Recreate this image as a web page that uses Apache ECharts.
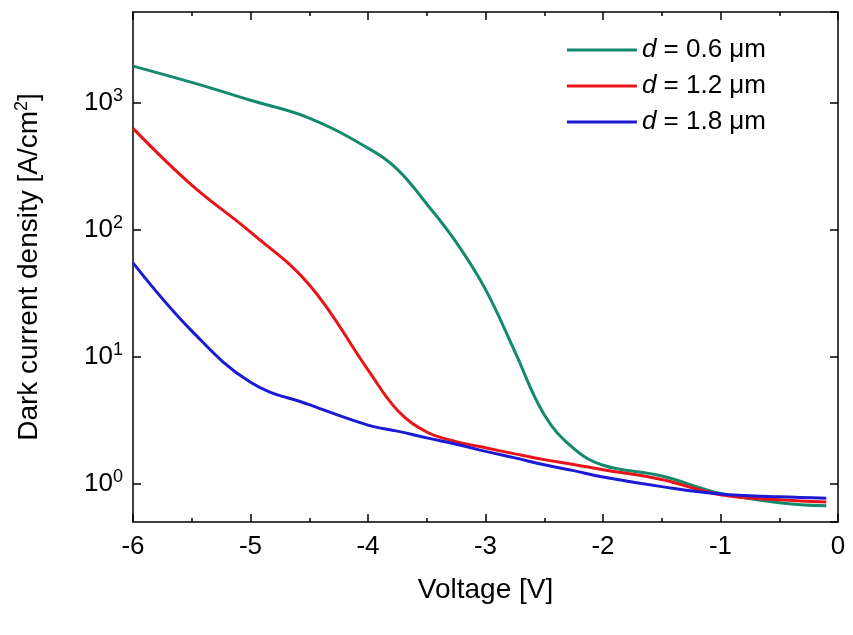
<!DOCTYPE html>
<html><head><meta charset="utf-8">
<script src="https://cdn.jsdelivr.net/npm/echarts@6/dist/echarts.min.js"></script>
<style>html,body{margin:0;padding:0;background:#fff}#c{width:853px;height:635px}</style>
</head><body><div id="c"></div>
<script>
const voltage = [-6, -5.5, -5, -4.5, -4, -3.75, -3.5, -3.25, -3, -2.75, -2.5, -2.25, -2, -1.5, -1, -0.5, -0.1];
const green = [1950, 1450, 1050, 760, 440, 300, 160, 80, 34, 11, 3.5, 1.9, 1.4, 1.15, 0.84, 0.71, 0.67];
const red = [630, 225, 96, 37, 7.9, 3.8, 2.56, 2.15, 1.92, 1.72, 1.55, 1.42, 1.29, 1.08, 0.82, 0.75, 0.72];
const blue = [55, 16, 6.3, 4.2, 2.9, 2.6, 2.3, 2.05, 1.8, 1.6, 1.41, 1.27, 1.13, 0.95, 0.83, 0.79, 0.77];
const names = ['0.6', '1.2', '1.8'];
const font = 'Liberation Sans, Arial, sans-serif';
const pts = a => voltage.map((v, i) => [v, a[i]]);
const chart = echarts.init(document.getElementById('c'));
const axisCommon = {axisLine:{onZero:false,lineStyle:{color:'#000',width:1.5}}, axisTick:{inside:true,length:8,lineStyle:{color:'#000',width:1.5}}, minorTick:{show:true,splitNumber:2,length:4,lineStyle:{color:'#000',width:1.5}}, splitLine:{show:false}};
chart.setOption({
  animation:false,
  grid:{left:133,right:15,top:12,bottom:113},
  legend:{right:82,top:32,orient:'vertical',itemWidth:70,itemHeight:3,itemGap:10,icon:'rect',
    textStyle:{fontFamily:font,fontSize:26,color:'#000',rich:{i:{fontStyle:'italic',fontFamily:font,fontSize:26}}},
    formatter: n => '{i|d} = ' + n.split(' ')[1] + ' μm'},
  xAxis:[
    Object.assign({type:'value',min:-6,max:0,interval:1,position:'bottom',name:'Voltage [V]',nameLocation:'middle',nameGap:54,
      nameTextStyle:{fontFamily:font,fontSize:28,color:'#000'},
      axisLabel:{fontFamily:font,fontSize:26,color:'#000',margin:12}}, axisCommon),
    Object.assign({type:'value',min:-6,max:0,interval:1,position:'top',axisLabel:{show:false}}, axisCommon)
  ],
  yAxis:[
    Object.assign({type:'log',logBase:10,min:0.5,max:5200,position:'left',name:'Dark current density [A/cm{s|2}]',nameLocation:'middle',nameGap:88,
      nameTextStyle:{fontFamily:font,fontSize:28,color:'#000',rich:{s:{fontSize:18,padding:[0,0,14,0],fontFamily:font}}},
      axisLabel:{fontFamily:font,fontSize:26,color:'#000',showMinLabel:false,showMaxLabel:false,margin:10,
        formatter:v=>{const e=Math.round(Math.log10(v));return Math.abs(Math.log10(v)-e)<1e-6?'10{s|'+e+'}':'';},
        rich:{s:{fontSize:18,padding:[0,0,14,0],fontFamily:font}}}}, axisCommon, {minorTick:{show:false}}),
    Object.assign({type:'log',logBase:10,min:0.5,max:5200,position:'right',axisLabel:{show:false}}, axisCommon, {minorTick:{show:false}})
  ],
  series:[
    {name:'d '+names[0],type:'line',data:pts(green),smooth:0.4,showSymbol:false,lineStyle:{width:3,color:'#138a6d'},itemStyle:{color:'#138a6d'}},
    {name:'d '+names[1],type:'line',data:pts(red),smooth:0.4,showSymbol:false,lineStyle:{width:3,color:'#e8141a'},itemStyle:{color:'#e8141a'}},
    {name:'d '+names[2],type:'line',data:pts(blue),smooth:0.4,showSymbol:false,lineStyle:{width:3,color:'#1b1bd6'},itemStyle:{color:'#1b1bd6'}}
  ]
});
</script></body></html>
